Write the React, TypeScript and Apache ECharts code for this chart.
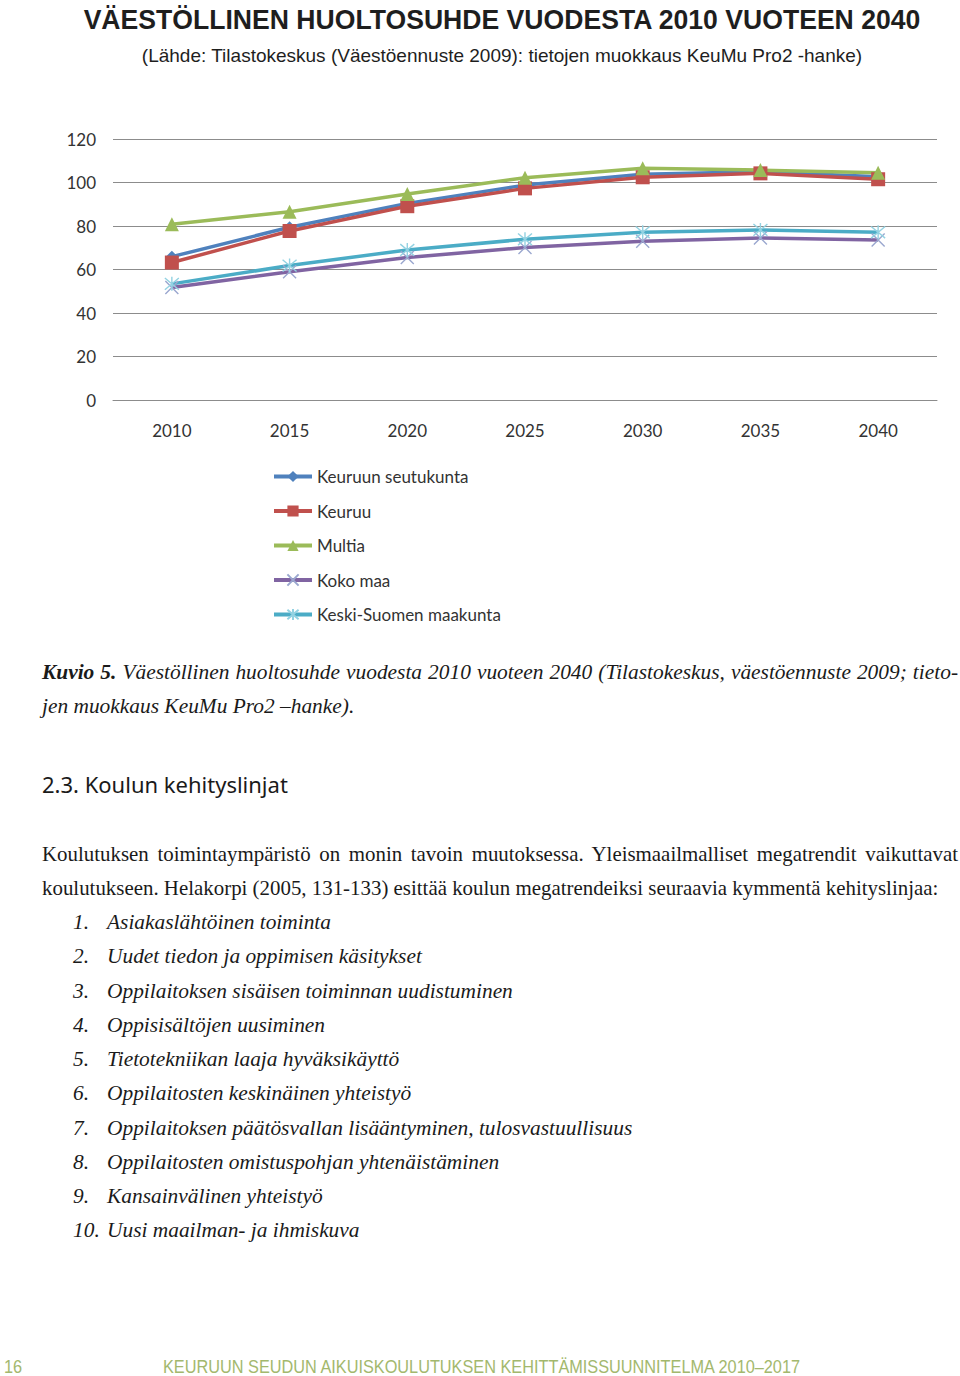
import React, { useEffect, useRef } from "react";
import * as echarts from "echarts";

const years = ["2010", "2015", "2020", "2025", "2030", "2035", "2040"];
const seutukunta = [65.9, 79.4, 90.4, 98.8, 103.8, 105.0, 102.7];
const keuruu = [63.2, 77.7, 89.1, 97.3, 102.4, 104.2, 101.5];
const multia = [80.8, 86.6, 94.7, 102.2, 106.5, 105.7, 104.5];
const kokoMaa = [51.7, 59.0, 65.5, 70.1, 73.0, 74.5, 73.6];
const keskiSuomi = [53.4, 61.8, 69.0, 73.9, 77.1, 78.2, 77.1];
const seriesNames = ["Keuruun seutukunta", "Keuruu", "Multia", "Koko maa", "Keski-Suomen maakunta"];
const seriesColors = ["#4F81BD", "#C0504D", "#9BBB59", "#8064A2", "#4BACC6"];

const title = "VÄESTÖLLINEN HUOLTOSUHDE VUODESTA 2010 VUOTEEN 2040";
const subtitle = "(Lähde: Tilastokeskus (Väestöennuste 2009): tietojen muokkaus KeuMu Pro2 -hanke)";

const captionLine1Rest = " Väestöllinen huoltosuhde vuodesta 2010 vuoteen 2040 (Tilastokeskus, väestöennuste 2009; tieto-";
const captionLine2 = "jen muokkaus KeuMu Pro2 –hanke).";
const heading = "2.3. Koulun kehityslinjat";
const paraLine1 = "Koulutuksen toimintaympäristö on monin tavoin muutoksessa. Yleismaailmalliset megatrendit vaikuttavat";
const paraLine2 = "koulutukseen. Helakorpi (2005, 131-133) esittää koulun megatrendeiksi seuraavia kymmentä kehityslinjaa:";
const listItems = [
  "Asiakaslähtöinen toiminta",
  "Uudet tiedon ja oppimisen käsitykset",
  "Oppilaitoksen sisäisen toiminnan uudistuminen",
  "Oppisisältöjen uusiminen",
  "Tietotekniikan laaja hyväksikäyttö",
  "Oppilaitosten keskinäinen yhteistyö",
  "Oppilaitoksen päätösvallan lisääntyminen, tulosvastuullisuus",
  "Oppilaitosten omistuspohjan yhtenäistäminen",
  "Kansainvälinen yhteistyö",
  "Uusi maailman- ja ihmiskuva",
];
const listTops = [922, 956, 991, 1025, 1059, 1093, 1128, 1162, 1196, 1230];
const footerText = "KEURUUN SEUDUN AIKUISKOULUTUKSEN KEHITTÄMISSUUNNITELMA 2010–2017";

const CROSS = "path://M0,0L10,10M10,0L0,10";
const ASTER = "path://M0,0L10,10M10,0L0,10M5,-1L5,11";

function Chart() {
  const ref = useRef<HTMLDivElement>(null);
  useEffect(() => {
    if (!ref.current) return;
    const chart = echarts.init(ref.current, null, { renderer: "svg" });
    const data = [seutukunta, keuruu, multia, kokoMaa, keskiSuomi];
    const symbols = ["diamond", "rect", "triangle", CROSS, ASTER];
    const sizes = [12, 14, 14, 13, 14];
    const markerStroke = [null, null, null, "#9aa7cf", "#93d2e2"];
    chart.setOption({
      animation: false,
      graphic: [
        {
          type: "text",
          x: 502,
          y: 19,
          scaleX: 0.95,
          style: {
            text: title,
            font: 'bold 28px "Liberation Sans", Arial',
            fill: "#1e1e1e",
            align: "center",
            verticalAlign: "middle",
          },
        },
        {
          type: "text",
          x: 502,
          y: 55,
          style: {
            text: subtitle,
            font: '19px "Liberation Sans", Arial',
            fill: "#1e1e1e",
            align: "center",
            verticalAlign: "middle",
          },
        },
      ],
      grid: { left: 113, right: 23, top: 139, bottom: 250, containLabel: false },
      xAxis: {
        type: "category",
        data: years,
        boundaryGap: true,
        axisLine: { show: true, lineStyle: { color: "#8c8c8c", width: 1 } },
        axisTick: { show: false },
        axisLabel: { color: "#333", fontFamily: "Lato", fontSize: 17, margin: 22 },
      },
      yAxis: {
        type: "value",
        min: 0,
        max: 120,
        interval: 20,
        axisLine: { show: false },
        axisTick: { show: false },
        axisLabel: { color: "#333", fontFamily: "Lato", fontSize: 17, margin: 17 },
        splitLine: { lineStyle: { color: "#8c8c8c", width: 1 } },
      },
      legend: {
        orient: "vertical",
        left: 272,
        top: 468,
        padding: 0,
        itemWidth: 38,
        itemHeight: 14,
        itemGap: 20.5 - 3,
        lineStyle: { width: 4 },
        textStyle: { color: "#333", fontFamily: "Lato", fontSize: 17 },
        data: seriesNames,
      },
      series: seriesNames.map((name, i) => ({
        name,
        type: "line",
        data: data[i],
        symbol: symbols[i],
        symbolSize: sizes[i],
        showSymbol: true,
        lineStyle: { color: seriesColors[i], width: 3.5 },
        itemStyle: markerStroke[i]
          ? { color: seriesColors[i], borderColor: markerStroke[i], borderWidth: 1.4, opacity: 1 }
          : { color: seriesColors[i], borderWidth: 0 },
        emphasis: { disabled: true },
      })),
    });
    return () => chart.dispose();
  }, []);
  return <div ref={ref} style={{ position: "absolute", left: 0, top: 0, width: 960, height: 650 }} />;
}

const serif = '"Liberation Serif", "DejaVu Serif", serif';

function Line({ top, left, width, children, justify, style }: any) {
  return (
    <div
      style={{
        position: "absolute",
        top: top - 17,
        left,
        width,
        height: 34,
        lineHeight: "34px",
        whiteSpace: "nowrap",
        textAlign: justify ? "justify" : "left",
        textAlignLast: justify ? "justify" : "auto",
        ...style,
      }}
    >
      {children}
    </div>
  );
}

export default function App() {
  return (
    <div
      style={{
        position: "absolute",
        left: 0,
        top: 0,
        width: 960,
        height: 1376,
        background: "#fff",
        overflow: "hidden",
        color: "#1a1a1a",
      }}
    >
      <Chart />
      <Line top={672} left={42} width={916} justify style={{ fontFamily: serif, fontStyle: "italic", fontSize: 21.4, whiteSpace: "normal" }}>
        <b>Kuvio 5.</b>
        {captionLine1Rest}
      </Line>
      <Line top={706} left={42} width={900} style={{ fontFamily: serif, fontStyle: "italic", fontSize: 21.4 }}>
        {captionLine2}
      </Line>
      <Line top={784} left={42} width={600} style={{ fontFamily: '"Noto Sans", sans-serif', fontSize: 22 }}>
        {heading}
      </Line>
      <Line top={854} left={42} width={916} justify style={{ fontFamily: serif, fontSize: 20.9, whiteSpace: "normal" }}>
        {paraLine1}
      </Line>
      <Line top={888} left={42} width={916} style={{ fontFamily: serif, fontSize: 20.9 }}>
        {paraLine2}
      </Line>
      {listItems.map((t, i) => (
        <React.Fragment key={i}>
          <Line top={listTops[i]} left={73} width={34} style={{ fontFamily: serif, fontStyle: "italic", fontSize: 21.4 }}>
            {i + 1}.
          </Line>
          <Line top={listTops[i]} left={107} width={800} style={{ fontFamily: serif, fontStyle: "italic", fontSize: 21.4 }}>
            {t}
          </Line>
        </React.Fragment>
      ))}
      <Line
        top={1367}
        left={4}
        width={60}
        style={{ fontFamily: '"Liberation Sans", sans-serif', fontSize: 19, color: "#a3b86d", transform: "scaleX(0.86)", transformOrigin: "left center" }}
      >
        16
      </Line>
      <Line
        top={1367}
        left={163}
        width={800}
        style={{ fontFamily: '"Liberation Sans", sans-serif', fontSize: 19, color: "#a3b86d", transform: "scaleX(0.857)", transformOrigin: "left center" }}
      >
        {footerText}
      </Line>
    </div>
  );
}
